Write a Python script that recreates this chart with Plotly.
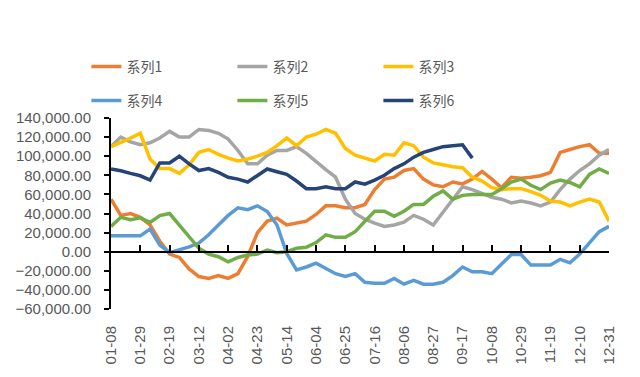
import plotly.graph_objects as go

dates = ["01-08", "01-15", "01-22", "01-29", "02-05", "02-12", "02-19", "02-26", "03-05", "03-12",
         "03-19", "03-26", "04-02", "04-09", "04-16", "04-23", "04-30", "05-07", "05-14", "05-21",
         "05-28", "06-04", "06-11", "06-18", "06-25", "07-02", "07-09", "07-16", "07-23", "07-30",
         "08-06", "08-13", "08-20", "08-27", "09-03", "09-10", "09-17", "09-24", "10-01", "10-08",
         "10-15", "10-22", "10-29", "11-05", "11-12", "11-19", "11-26", "12-03", "12-10", "12-17",
         "12-24", "12-31"]

s1 = [55000, 38000, 40000, 36000, 28000, 11000, -2500, -6000, -18000, -26000,
      -28000, -25000, -28000, -23000, -5000, 20000, 32000, 35000, 28000, 30000,
      32000, 39000, 48000, 48000, 46000, 46000, 49500, 65000, 76000, 78000,
      85000, 87000, 76000, 70000, 68000, 73000, 71000, 76000, 84000, 76000,
      67000, 78000, 77000, 78000, 79500, 83000, 104000, 107000, 110000, 112000,
      103000, 103000]
s2 = [110000, 120000, 115000, 112000, 114000, 119000, 126000, 120000, 120000, 128000,
      127000, 124000, 118000, 106000, 92000, 92000, 101000, 106000, 106000, 110000,
      103000, 94000, 86000, 78000, 55000, 40000, 34000, 30000, 26500, 28000,
      31000, 38000, 34000, 28000, 41000, 55000, 68000, 65000, 61000, 57000,
      55000, 51000, 53000, 51000, 48000, 52000, 65000, 76000, 85000, 92000,
      101000, 107000]
s3 = [110000, 115000, 119000, 124000, 97000, 87000, 87000, 82000, 91000, 104000,
      107000, 102000, 98000, 95000, 97000, 100000, 104000, 111000, 119000, 111000,
      120000, 123000, 128000, 124000, 108000, 101000, 98000, 95000, 102000, 101000,
      114000, 111000, 99000, 93000, 91000, 89000, 88000, 78000, 74000, 67000,
      65000, 66000, 66000, 63000, 59000, 53000, 52000, 48000, 52000, 55000,
      52000, 32000]
s4 = [16600, 16600, 16600, 16600, 23700, 7000, -1000, 2000, 5000, 9000,
      17700, 28000, 38000, 46000, 44000, 48000, 42000, 28000, -2000, -19000,
      -16000, -12000, -18000, -23000, -26000, -23000, -32000, -33000, -33000, -28000,
      -34000, -30000, -34000, -34000, -32000, -25000, -16000, -21000, -21000, -23000,
      -13000, -3000, -3000, -14000, -14000, -14000, -8000, -11600, -2500, 9000,
      21000, 26500]
s5 = [26500, 36000, 33600, 35400, 30700, 37800, 40000, 28000, 16000, 3600,
      -2500, -5300, -10600, -6000, -3500, -2500, 1800, -1000, 0, 3600,
      4600, 9500, 17700, 15000, 15000, 21000, 31800, 42400, 42400, 37000,
      42400, 49500, 49500, 58000, 63600, 55000, 59000, 60000, 60000, 60000,
      66000, 73000, 76000, 69600, 65000, 71800, 75000, 72500, 68000, 81000,
      86600, 82000]
s6 = [86600, 84800, 82000, 79500, 75000, 93000, 93000, 100000, 92000, 85000,
      87000, 83000, 78000, 76000, 73000, 79500, 86600, 83700, 81000, 74000,
      66000, 66000, 68000, 66000, 66000, 73000, 70700, 75000, 80000, 87000,
      92000, 99000, 104000, 107000, 110000, 111000, 112000, 98000]

names = ["系列1", "系列2", "系列3", "系列4", "系列5", "系列6"]
series = [s1, s2, s3, s4, s5, s6]
colors = ["#ED7D31", "#A5A5A5", "#FFC000", "#5B9BD5", "#70AD47", "#264478"]
tick_idx = list(range(0, 52, 3))

fig = go.Figure()
for i, (nm, vals, col) in enumerate(zip(names, series, colors)):
    fig.add_trace(go.Scatter(
        x=dates[:len(vals)], y=vals, name=nm, mode="lines",
        line=dict(color=col, width=3.5),
        legend="legend" if i < 3 else "legend2",
    ))

# invisible trace on overlaying axis to draw the zero-line axis with ticks
fig.add_trace(go.Scatter(x=[dates[0], dates[-1]], y=[0, 0], xaxis="x2", mode="lines",
                         line=dict(width=0), showlegend=False, hoverinfo="skip"))

tickfont = dict(family="Liberation Sans", size=15, color="#595959")
legfont = dict(family="Noto Sans CJK SC", size=14, color="#595959")
leg_common = dict(orientation="h", xref="container", yref="container",
                  x=0.135, xanchor="left", yanchor="middle",
                  entrywidth=101, entrywidthmode="pixels", font=legfont,
                  bgcolor="rgba(0,0,0,0)")

fig.update_layout(
    width=640, height=377,
    margin=dict(l=111, r=31, t=118, b=68, autoexpand=False),
    paper_bgcolor="white", plot_bgcolor="white",
    showlegend=True,
    legend=dict(y=1 - 67 / 377, **leg_common),
    legend2=dict(y=1 - 101 / 377, **leg_common),
    xaxis=dict(type="category", categoryorder="array", categoryarray=dates,
               range=[0, 51], tickmode="array",
               tickvals=[dates[i] for i in tick_idx], ticktext=[dates[i] for i in tick_idx],
               tickangle=-90, showline=False, ticks="", showgrid=False, zeroline=False,
               tickfont=tickfont, ticklabelstandoff=13, automargin=False),
    xaxis2=dict(type="category", categoryorder="array", categoryarray=dates,
                range=[0, 51], overlaying="x", anchor="free", position=0.3, side="bottom",
                tickmode="array", tickvals=[dates[i] for i in tick_idx],
                showticklabels=False, ticks="inside", ticklen=6, tickwidth=2, tickcolor="black",
                showline=True, linecolor="black", linewidth=2, showgrid=False, zeroline=False),
    yaxis=dict(range=[-60000, 140000], tickmode="array",
               tickvals=list(range(-60000, 140001, 20000)), tickformat=",.2f",
               showline=True, linecolor="black", linewidth=2,
               ticks="outside", ticklen=5, tickwidth=2, tickcolor="black",
               showgrid=False, zeroline=False, tickfont=tickfont, ticklabelstandoff=10,
               automargin=False),
)

fig.write_html("out.html", config={"displayModeBar": False},
               post_script="document.body.style.margin='0';")
